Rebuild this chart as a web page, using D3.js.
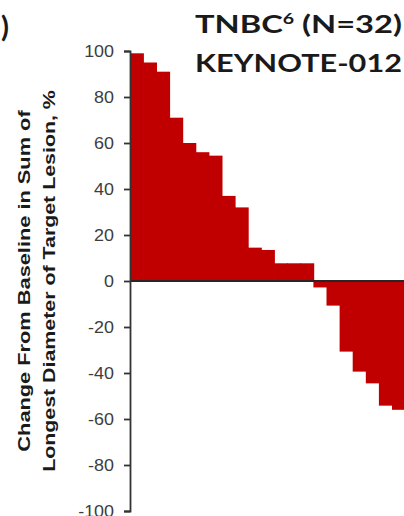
<!DOCTYPE html>
<html>
<head>
<meta charset="utf-8">
<script src="https://cdn.jsdelivr.net/npm/d3@7"></script>
<style>
  html, body { margin: 0; padding: 0; background: #fff; overflow: hidden; }
  svg { display: block; }
</style>
</head>
<body>
<script>
// Best percentage change from baseline in target lesions, one bar per patient (sorted)
const changePct = [99, 95, 91, 71, 60, 56, 54.5, 37, 32, 14.5, 13.5, 7.7, 7.7, 7.7,
                   -2.8, -10.7, -30.7, -39.4, -44.5, -54.2, -56, -70,
                   -72, -76, -80, -84, -88, -92, -96, -100, -100, -100];
const patients = changePct.map((_, i) => i + 1);
const yTicks = [100, 80, 60, 40, 20, 0, -20, -40, -60, -80, -100];
const titleLines = ["TNBC", "KEYNOTE-012"];
const yTitleLines = ["Change From Baseline in Sum of", "Longest Diameter of Target Lesion, %"];

const W = 404, H = 516;
const axisX = 130, barStep = 13.1;
const plotTop = 51, plotBottom = 511;

const svg = d3.select("body").append("svg")
  .attr("width", W).attr("height", H);

const x = d3.scaleBand()
  .domain(patients)
  .range([axisX, axisX + barStep * patients.length])
  .padding(0);

const y = d3.scaleLinear().domain([-100, 100]).range([plotBottom, plotTop]);

// Waterfall bars (slight overlap so adjacent bars read as one block)
svg.append("g").selectAll("rect")
  .data(patients)
  .join("rect")
  .attr("x", d => x(d))
  .attr("width", x.bandwidth() + 0.8)
  .attr("y", d => y(Math.max(0, changePct[d - 1])))
  .attr("height", d => Math.abs(y(changePct[d - 1]) - y(0)))
  .attr("fill", "#C00000");

// Zero reference line
svg.append("line")
  .attr("x1", axisX).attr("x2", W)
  .attr("y1", y(0)).attr("y2", y(0))
  .attr("stroke", "#262626").attr("stroke-width", 2);

// Y axis
const yAxis = svg.append("g")
  .attr("transform", `translate(${axisX},0)`)
  .call(d3.axisLeft(y).tickValues(yTicks).tickFormat(d => String(d))
    .tickSize(6).tickSizeOuter(6).tickPadding(11));
yAxis.select(".domain").attr("stroke", "#333").attr("stroke-width", 1.8);
yAxis.selectAll(".tick line").attr("stroke", "#333").attr("stroke-width", 1.8);
yAxis.selectAll(".tick text")
  .attr("font-family", "'Liberation Sans', Arial, sans-serif")
  .attr("font-size", 16)
  .attr("fill", "#3d3d3d")
  .attr("x", null)
  .attr("transform", "translate(-16,0) scale(1.12,1)");

// Fit a text element horizontally to a given width
function fitWidth(sel, width) {
  const w = sel.node().getBBox().width;
  return width / w;
}

// Chart title (two lines)
const titleFont = "Lato, 'Open Sans', sans-serif";
const t1 = svg.append("text")
  .attr("font-family", titleFont).attr("font-weight", 700)
  .attr("font-size", 25).attr("fill", "#1a1a1a");
t1.append("tspan").text(titleLines[0]);
t1.append("tspan").attr("font-size", 15).attr("dy", -9).text("6");
t1.append("tspan").attr("dy", 9).text(" (N=32)");
const s1 = fitWidth(t1, 207);
t1.attr("transform", `translate(195,33) scale(${s1},1)`);

const t2 = svg.append("text")
  .attr("font-family", titleFont).attr("font-weight", 700)
  .attr("font-size", 25).attr("fill", "#1a1a1a")
  .text(titleLines[1]);
const s2 = fitWidth(t2, 207);
t2.attr("transform", `translate(195,72) scale(${s2},1)`);

// Closing parenthesis of the neighbouring panel's title
svg.append("text")
  .attr("font-family", titleFont).attr("font-weight", 700)
  .attr("font-size", 29).attr("fill", "#1a1a1a")
  .attr("text-anchor", "end")
  .attr("x", 9).attr("y", 37)
  .text(")");

// Y axis title (two rotated lines)
const yTitleSpec = [
  { text: yTitleLines[0], bx: 30, len: 342 },
  { text: yTitleLines[1], bx: 55, len: 382 }
];
yTitleSpec.forEach(s => {
  const t = svg.append("text")
    .attr("font-family", "'Liberation Sans', Arial, sans-serif")
    .attr("font-weight", 700)
    .attr("font-size", 17)
    .attr("fill", "#1a1a1a")
    .attr("text-anchor", "middle")
    .text(s.text);
  const k = fitWidth(t, s.len);
  t.attr("transform", `translate(${s.bx},${y(0)}) rotate(-90) scale(${k},1)`);
});
</script>
</body>
</html>
